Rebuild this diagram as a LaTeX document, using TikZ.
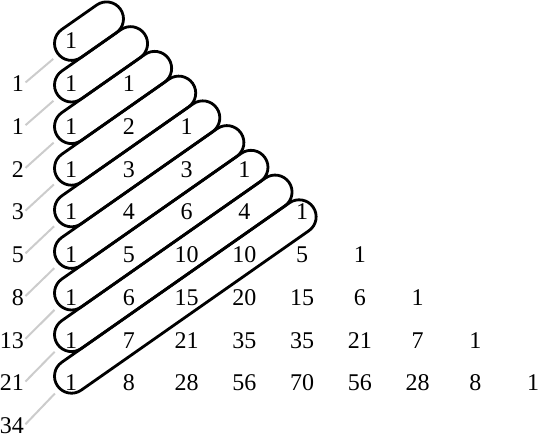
\documentclass[tikz,border=0pt]{standalone}
\usepackage{fontspec}
\setmainfont{Liberation Serif}

\begin{document}
\begin{tikzpicture}[x=1pt, y=1pt,
        cell/.style={inner sep=0pt, font=\fontsize{24}{24}\selectfont},
        fibsum/.style={inner sep=0pt, anchor=east, font=\fontsize{24}{24}\selectfont},
        diag/.style={line width=2.8pt},
        tie/.style={draw=black!20, line width=2pt, shorten <=2pt, shorten >=24pt}]
    \useasboundingbox (0,0) rectangle (539,440);

    % Pascal's triangle, one row per item
    \foreach \vals [count=\r from 0] in {{1},{1,1},{1,2,1},{1,3,3,1},{1,4,6,4,1},{1,5,10,10,5,1},{1,6,15,20,15,6,1},{1,7,21,35,35,21,7,1},{1,8,28,56,70,56,28,8,1}} {
        \foreach \v [count=\k from 0] in \vals {
            \node[cell] (p\r-\k) at ({71 + 57.75*\k}, {399 - 42.75*\r}) {\v};
        }
    }

    % Loops round the shallow diagonals
    \foreach \n in {0,...,8} {
        \coordinate (s\n) at (71.5, {396.6 - 41.6*\n});
        \draw[diag] (s\n) ++(-55:17) -- ++(35:{42.7 + 29.4*\n})
            arc[start angle=-55, end angle=125, radius=17]
            -- ++(215:{42.7 + 29.4*\n})
            arc[start angle=125, end angle=305, radius=17] -- cycle;
    }

    % Sums of the diagonals
    \foreach \s [count=\n from 0] in {1,1,2,3,5,8,13,21,34} {
        \node[fibsum] (f\n) at (24, {399 - 42.75*(\n+1)}) {\s};
        \draw[tie] (f\n.east) -- (s\n);
    }
\end{tikzpicture}
\end{document}
